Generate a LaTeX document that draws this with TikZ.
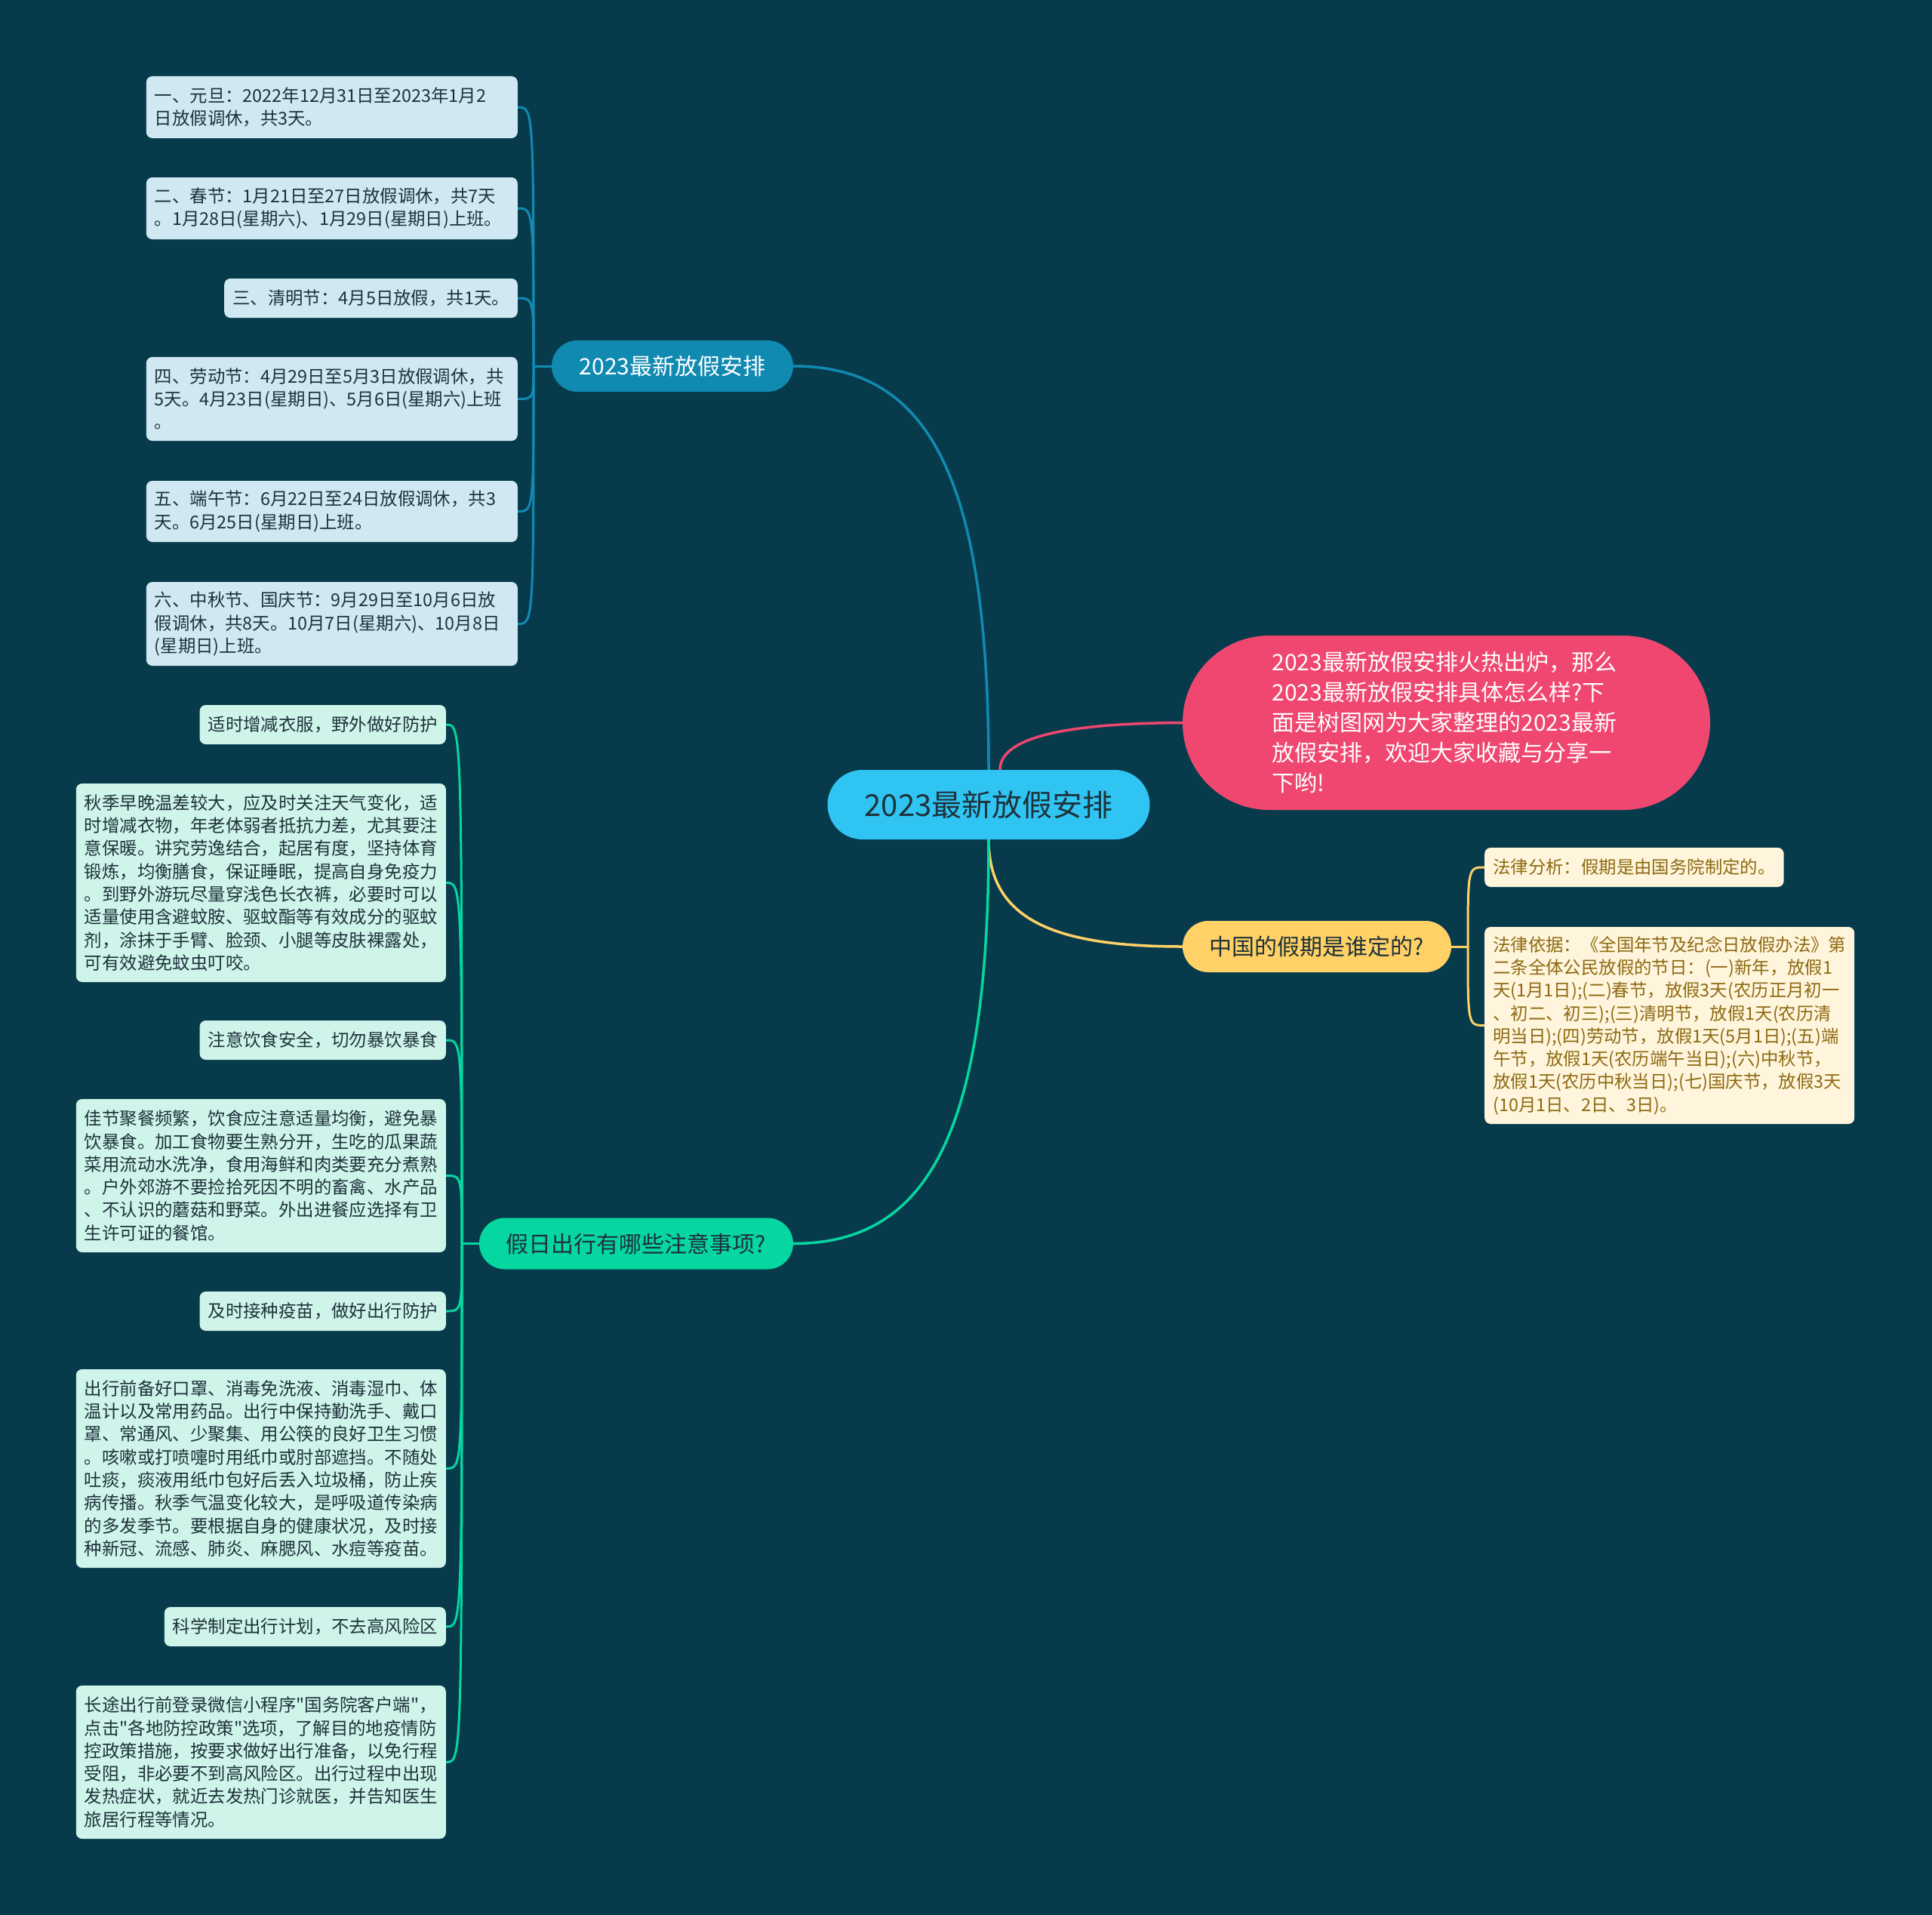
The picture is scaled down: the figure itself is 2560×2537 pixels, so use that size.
\documentclass[tikz,border=0pt]{standalone}
\usepackage{fontspec}
\newfontfamily\cjk{Noto Sans CJK SC}
\usetikzlibrary{positioning}
\pgfdeclarelayer{bg}
\pgfsetlayers{bg,main}

\definecolor{bgc}{HTML}{073B4C}
\definecolor{rootc}{HTML}{30C4F3}
\definecolor{planc}{HTML}{118AB2}
\definecolor{tripc}{HTML}{06D6A0}
\definecolor{whoc}{HTML}{FFD166}
\definecolor{introc}{HTML}{EF476F}
\definecolor{planleaf}{HTML}{D0E8F1}
\definecolor{tripleaf}{HTML}{CFF5EB}
\definecolor{wholeaf}{HTML}{FFF5DC}
\definecolor{darktxt}{HTML}{1E323A}
\definecolor{goldtxt}{HTML}{8D6A12}

\begin{document}
\begin{tikzpicture}[x=1pt, y=-1pt]
\tikzstyle{every node}=[font=\cjk]
\tikzstyle{pill}=[rectangle, inner sep=0pt, align=center, minimum height=68pt,
rounded corners=34pt, font=\cjk\fontsize{30}{40}\selectfont]
\tikzstyle{leaf}=[rectangle, rounded corners=8pt, inner xsep=11pt, inner ysep=0pt,
align=left, text=darktxt, font=\cjk\fontsize{23.4}{30.3}\selectfont]
\tikzstyle{planleaf}=[leaf, fill=planleaf, anchor=east]
\tikzstyle{tripleaf}=[leaf, fill=tripleaf, anchor=east]
\tikzstyle{wholeaf}=[leaf, fill=wholeaf, text=goldtxt, anchor=west]
\tikzstyle{link}=[line width=3.5pt]
\tikzstyle{sublink}=[line width=3pt]

\useasboundingbox (0,0) rectangle (2560,2537);

% centre
\node[rectangle, fill=rootc, text=darktxt, inner sep=0pt,
minimum width=427pt, minimum height=92pt, rounded corners=46pt,
font=\cjk\fontsize{40}{48}\selectfont] at (1310, 1066) (root) {2023最新放假安排};

% main topics
\node[pill, fill=planc, text=white, minimum width=320pt] at (891, 485) (plan) {2023最新放假安排};
\node[pill, fill=tripc, text=darktxt, minimum width=416pt] at (843, 1647.5) (trip) {假日出行有哪些注意事项?};
\node[pill, fill=whoc, text=darktxt, minimum width=356pt] at (1745, 1254) (who) {中国的假期是谁定的?};

\node[rectangle, fill=introc, text=white, inner sep=0pt, align=left,
minimum width=699pt, minimum height=231pt, rounded corners=115pt, text width=462pt,
font=\cjk\fontsize{30}{40}\selectfont] at (1916.5, 957.5) (intro) {%
2023最新放假安排火热出炉，那么\\
2023最新放假安排具体怎么样?下\\
面是树图网为大家整理的2023最新\\
放假安排，欢迎大家收藏与分享一\\
下哟!};

% holiday dates
\node[planleaf, text width=470pt, minimum height=82pt] at (686, 142) (p1) {%
一、元旦：2022年12月31日至2023年1月2\\日放假调休，共3天。};
\node[planleaf, text width=470pt, minimum height=82pt] at (686, 276) (p2) {%
二、春节：1月21日至27日放假调休，共7天\\。1月28日(星期六)、1月29日(星期日)上班。};
\node[planleaf, minimum height=52pt] at (686, 395) (p3) {三、清明节：4月5日放假，共1天。};
\node[planleaf, text width=470pt, minimum height=111pt] at (686, 528.5) (p4) {%
四、劳动节：4月29日至5月3日放假调休，共\\5天。4月23日(星期日)、5月6日(星期六)上班\\。};
\node[planleaf, text width=470pt, minimum height=81pt] at (686, 677.5) (p5) {%
五、端午节：6月22日至24日放假调休，共3\\天。6月25日(星期日)上班。};
\node[planleaf, text width=470pt, minimum height=111pt] at (686, 826.5) (p6) {%
六、中秋节、国庆节：9月29日至10月6日放\\假调休，共8天。10月7日(星期六)、10月8日\\(星期日)上班。};

% travel tips
\node[tripleaf, minimum height=52pt] at (591, 960) (t1) {适时增减衣服，野外做好防护};
\node[tripleaf, text width=468pt, minimum height=263pt] at (591, 1169.5) (t2) {%
秋季早晚温差较大，应及时关注天气变化，适\\
时增减衣物，年老体弱者抵抗力差，尤其要注\\
意保暖。讲究劳逸结合，起居有度，坚持体育\\
锻炼，均衡膳食，保证睡眠，提高自身免疫力\\
。到野外游玩尽量穿浅色长衣裤，必要时可以\\
适量使用含避蚊胺、驱蚊酯等有效成分的驱蚊\\
剂，涂抹于手臂、脸颈、小腿等皮肤裸露处，\\
可有效避免蚊虫叮咬。};
\node[tripleaf, minimum height=52pt] at (591, 1378) (t3) {注意饮食安全，切勿暴饮暴食};
\node[tripleaf, text width=468pt, minimum height=203pt] at (591, 1557.5) (t4) {%
佳节聚餐频繁，饮食应注意适量均衡，避免暴\\
饮暴食。加工食物要生熟分开，生吃的瓜果蔬\\
菜用流动水洗净，食用海鲜和肉类要充分煮熟\\
。户外郊游不要捡拾死因不明的畜禽、水产品\\
、不认识的蘑菇和野菜。外出进餐应选择有卫\\
生许可证的餐馆。};
\node[tripleaf, minimum height=52pt] at (591, 1737) (t5) {及时接种疫苗，做好出行防护};
\node[tripleaf, text width=468pt, minimum height=263pt] at (591, 1945.5) (t6) {%
出行前备好口罩、消毒免洗液、消毒湿巾、体\\
温计以及常用药品。出行中保持勤洗手、戴口\\
罩、常通风、少聚集、用公筷的良好卫生习惯\\
。咳嗽或打喷嚏时用纸巾或肘部遮挡。不随处\\
吐痰，痰液用纸巾包好后丢入垃圾桶，防止疾\\
病传播。秋季气温变化较大，是呼吸道传染病\\
的多发季节。要根据自身的健康状况，及时接\\
种新冠、流感、肺炎、麻腮风、水痘等疫苗。};
\node[tripleaf, minimum height=52pt] at (591, 2155) (t7) {科学制定出行计划，不去高风险区};
\node[tripleaf, text width=468pt, minimum height=203pt] at (591, 2334.5) (t8) {%
长途出行前登录微信小程序"国务院客户端"，\\
点击"各地防控政策"选项，了解目的地疫情防\\
控政策措施，按要求做好出行准备，以免行程\\
受阻，非必要不到高风险区。出行过程中出现\\
发热症状，就近去发热门诊就医，并告知医生\\
旅居行程等情况。};

% who decides
\node[wholeaf, minimum height=52pt] at (1967, 1149) (w1) {法律分析：假期是由国务院制定的。};
\node[wholeaf, text width=468pt, minimum height=261pt] at (1967, 1358.5) (w2) {%
法律依据：《全国年节及纪念日放假办法》第\\
二条全体公民放假的节日：(一)新年，放假1\\
天(1月1日);(二)春节，放假3天(农历正月初一\\
、初二、初三);(三)清明节，放假1天(农历清\\
明当日);(四)劳动节，放假1天(5月1日);(五)端\\
午节，放假1天(农历端午当日);(六)中秋节，\\
放假1天(农历中秋当日);(七)国庆节，放假3天\\
(10月1日、2日、3日)。};

\coordinate (plan_j) at (707, 485);
\coordinate (trip_j) at (612, 1647.5);
\coordinate (who_j) at (1945, 1254);

\begin{pgfonlayer}{bg}
\fill[bgc] (0,0) rectangle (2560,2537);

\draw[link, planc] (root.north) .. controls (1310, 630) and (1230, 485) .. (plan.east);
\draw[link, introc] ([xshift=15pt]root.north) .. controls (1325, 975) and (1420, 958) .. (intro.west);
\draw[link, whoc] (root.south) .. controls (1310, 1220) and (1400, 1254) .. (who.west);
\draw[link, tripc] (root.south) .. controls (1310, 1500) and (1230, 1647.5) .. (trip.east);

\draw[sublink, planc] (plan.west) -- (plan_j);
\foreach \n in {p1,p2,p3,p4,p5,p6}
  \draw[sublink, planc] (plan_j) .. controls (plan_j |- \n.east) and (plan_j |- \n.east) .. (\n.east);

\draw[sublink, tripc] (trip.west) -- (trip_j);
\foreach \n in {t1,t2,t3,t4,t5,t6,t7,t8}
  \draw[sublink, tripc] (trip_j) .. controls (trip_j |- \n.east) and (trip_j |- \n.east) .. (\n.east);

\draw[sublink, whoc] (who.east) -- (who_j);
\foreach \n in {w1,w2}
  \draw[sublink, whoc] (who_j) .. controls (who_j |- \n.west) and (who_j |- \n.west) .. (\n.west);
\end{pgfonlayer}

\end{tikzpicture}
\end{document}
